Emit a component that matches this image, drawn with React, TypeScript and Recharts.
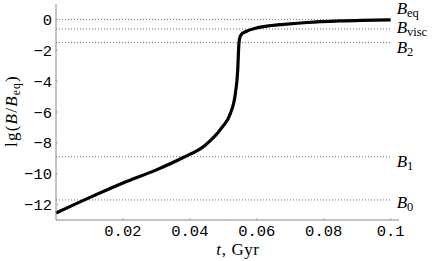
import { LineChart, Line, XAxis, YAxis, ReferenceLine } from "recharts";

// lg(B/Beq) against t in Gyr
const tGyr = [0, 0.01, 0.02, 0.03, 0.038, 0.0446, 0.0496, 0.0521, 0.0536, 0.0543, 0.0546, 0.0549, 0.0555, 0.0566, 0.0596, 0.0626, 0.068, 0.075, 0.085, 0.1];
const lgB = [-12.55, -11.55, -10.6, -9.75, -8.95, -8.15, -7.0, -6.1, -4.8, -3.3, -1.8, -1.2, -0.95, -0.8, -0.57, -0.45, -0.32, -0.2, -0.1, -0.03];

// horizontal reference levels
const levelSubs = ["eq", "visc", "2", "1", "0"];
const levelValues = [0, -0.62, -1.5, -8.9, -11.7];

const xTicks = [0.02, 0.04, 0.06, 0.08, 0.1];
const yTicks = [0, -2, -4, -6, -8, -10, -12];

const data = tGyr.map((t, i) => ({ t, v: lgB[i] }));

// baseline offset of each level label from its line (layout only)
const labelShift: Record<string, number> = { eq: -5, visc: 4.5, "2": 10.5, "1": 10.5, "0": 8.5 };

const tickFont = { fill: "#000", fontSize: 15.5, fontFamily: "'Liberation Mono', monospace" };
const serif = "'Liberation Serif', 'DejaVu Serif', serif";

function LevelLabel({ viewBox, sub }: any) {
  if (!viewBox) return null;
  const x = viewBox.x + viewBox.width + 6;
  const y = viewBox.y + labelShift[sub];
  return (
    <text x={x} y={y} fontFamily={serif} fontSize={17} fill="#000">
      <tspan fontStyle="italic">B</tspan>
      <tspan fontSize={12.5} dy={3}>{sub}</tspan>
    </text>
  );
}

function XTitle() {
  return (
    <text x={238} y={254.5} textAnchor="middle" fontFamily={serif} fontSize={17} letterSpacing={0.6} fill="#000">
      <tspan fontStyle="italic">t</tspan>, Gyr
    </text>
  );
}

function YTitle() {
  return (
    <text
      transform="translate(17,111) rotate(-90)"
      textAnchor="middle"
      fontFamily={serif}
      fontSize={17}
      letterSpacing={1.2}
      fill="#000"
    >
      lg(<tspan fontStyle="italic">B</tspan>/<tspan fontStyle="italic">B</tspan>
      <tspan fontSize={11.5} dy={3}>eq</tspan>
      <tspan dy={-3}>)</tspan>
    </text>
  );
}

export default function App() {
  return (
    <div style={{ position: "absolute", left: 0, top: 0, background: "#fff" }}>
      <LineChart width={436} height={261} data={data} margin={{ top: 4, right: 37, bottom: 0, left: 0 }}>
        <XAxis
          dataKey="t"
          type="number"
          domain={[0, 0.1025]}
          ticks={xTicks}
          tickFormatter={(v: number) => String(v)}
          height={41}
          axisLine={{ stroke: "#888" }}
          tickLine={{ stroke: "#aaa" }}
          tickSize={-2}
          tickMargin={7}
          tick={tickFont}
          label={{ content: () => <XTitle /> }}
        />
        <YAxis
          type="number"
          domain={[-13, 1]}
          ticks={yTicks}
          tickFormatter={(v: number) => (v < 0 ? "\u2212" + Math.abs(v) : String(v))}
          width={56}
          axisLine={{ stroke: "#888" }}
          tickLine={{ stroke: "#aaa" }}
          tickSize={-2}
          tickMargin={6}
          tick={tickFont}
          label={{ content: () => <YTitle /> }}
        />
        {levelValues.map((v, i) => (
          <ReferenceLine
            key={levelSubs[i]}
            segment={[{ x: 0, y: v }, { x: 0.1, y: v }]}
            stroke="#777"
            strokeDasharray="1 2"
            strokeWidth={1}
            label={{ content: (p: any) => <LevelLabel viewBox={p.viewBox} sub={levelSubs[i]} /> }}
          />
        ))}
        <Line
          type="monotone"
          dataKey="v"
          stroke="#000"
          strokeWidth={3.2}
          dot={false}
          isAnimationActive={false}
        />
      </LineChart>
    </div>
  );
}
